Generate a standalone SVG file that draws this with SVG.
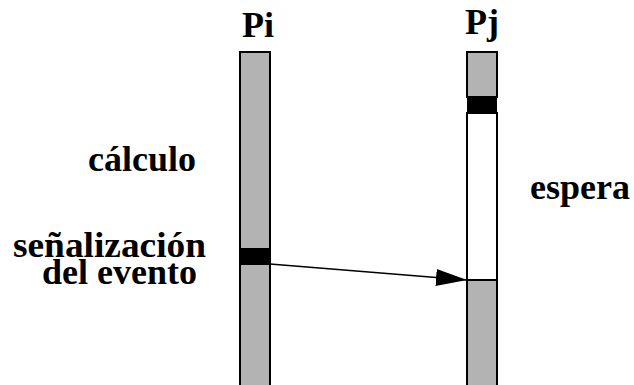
<svg xmlns="http://www.w3.org/2000/svg" width="634" height="385" viewBox="0 0 634 385">
  <style>
    .lbl { font-family: "Liberation Serif", "Times New Roman", serif; font-weight: bold; font-size: 36px; fill: #000; }
    .run { fill: #b3b3b3; stroke: #000; stroke-width: 2; }
    .wait { fill: #fff; stroke: #000; stroke-width: 2; }
    .blk { fill: #000; }
  </style>
  <defs>
    <marker id="arrow" markerWidth="32" markerHeight="20" refX="31" refY="10" orient="auto" markerUnits="userSpaceOnUse">
      <path d="M0,1.5 L31,10 L0,18.5 Z" fill="#000"/>
    </marker>
  </defs>

  <!-- process Pi: runs the whole time, signals the event -->
  <g id="Pi">
    <text class="lbl" x="242" y="37">Pi</text>
    <rect class="run" x="240" y="52" width="30" height="340"/>
    <rect class="blk" x="240" y="248" width="30" height="17"/>
  </g>

  <!-- process Pj: blocks, waits, then resumes on the event -->
  <g id="Pj">
    <text class="lbl" x="465" y="34">Pj</text>
    <rect class="run" x="467" y="52" width="30" height="45"/>
    <rect class="blk" x="467" y="97" width="30" height="16"/>
    <rect class="wait" x="467" y="113" width="30" height="167"/>
    <rect class="run" x="467" y="280" width="30" height="112"/>
  </g>

  <g id="labels">
    <text class="lbl" x="88" y="171">cálculo</text>
    <text class="lbl" x="530" y="199">espera</text>
    <text class="lbl" x="13" y="257" textLength="193" lengthAdjust="spacingAndGlyphs">señalización</text>
    <text class="lbl" x="42" y="284">del evento</text>
  </g>

  <g id="connectors">
    <line x1="270" y1="264" x2="467" y2="280" stroke="#000" stroke-width="1.5" marker-end="url(#arrow)"/>
  </g>
</svg>
